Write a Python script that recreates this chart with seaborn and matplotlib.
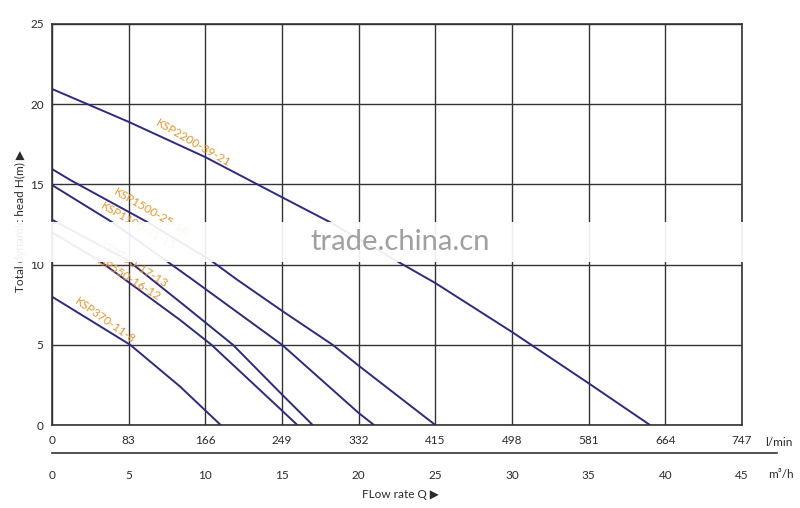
import pandas as pd
import matplotlib.pyplot as plt
import seaborn as sns
from matplotlib.patches import Rectangle

# Pump curves: flow in m3/h, head in m
models = ["KSP2200-39-21", "KSP1500-25-16", "KSP1100-21-15",
          "KSP750-17-13", "KSP550-16-12", "KSP370-11-8"]
q_2200 = [0, 5, 10, 15, 18.1, 22.6, 25, 30, 35, 39]
h_2200 = [20.95, 18.9, 16.7, 14.2, 12.66, 10.16, 8.85, 5.8, 2.6, 0]
q_1500 = [0, 1.2, 6.2, 10.3, 12.1, 15, 18.3, 20, 25]
h_1500 = [15.96, 15.27, 12.66, 10.3, 9.04, 7.12, 5.0, 3.7, 0]
q_1100 = [0, 3.9, 9.2, 15, 20, 21]
h_1100 = [14.96, 12.66, 9.04, 5.0, 0.75, 0]
q_750 = [0, 4.9, 8.35, 11.8, 15, 17]
h_750 = [12.8, 10.3, 7.67, 5.0, 1.9, 0]
q_550 = [0, 3.0, 8.35, 10.4, 15, 16]
h_550 = [12.0, 10.3, 6.55, 5.0, 0.9, 0]
q_370 = [0, 5.1, 8.35, 11.0]
h_370 = [8.0, 5.0, 2.4, 0]

# label positions along the curves (q, h, angle)
label_q = [9.2, 6.5, 5.6, 5.35, 4.9, 3.46]
label_h = [17.55, 13.3, 12.4, 10.0, 9.2, 6.5]
label_rot = [-30, -30, -30, -32, -32, -35]

lmin_ticks = ["0", "83", "166", "249", "332", "415", "498", "581", "664", "747"]
m3h_ticks = [0, 5, 10, 15, 20, 25, 30, 35, 40, 45]

curves = [(q_2200, h_2200), (q_1500, h_1500), (q_1100, h_1100),
          (q_750, h_750), (q_550, h_550), (q_370, h_370)]
rows = []
for name, (qs, hs) in zip(models, curves):
    for q, h in zip(qs, hs):
        rows.append({"model": name, "q": q, "h": h})
df = pd.DataFrame(rows)

sns.set_theme(style="white")
plt.rcParams['font.family'] = ['Lato', 'DejaVu Sans']

line_col = "#2d2a80"
grid_col = "#333333"
txt_col = "#2a2a2a"
lab_col = "#e3962b"

fig = plt.figure(figsize=(8, 5.08), dpi=100)
ax = fig.add_axes([52/800, 83/508, 690/800, 401/508])

sns.lineplot(data=df, x="q", y="h", units="model", estimator=None, sort=False,
             color=line_col, linewidth=1.4, ax=ax, legend=False)

for name, q, h, r in zip(models, label_q, label_h, label_rot):
    ax.text(q, h, name, rotation=r, ha="center", va="center", fontsize=8.5,
            color=lab_col, rotation_mode="anchor")

ax.set_xlim(0, 45)
ax.set_ylim(0, 25)
ax.set_xticks(m3h_ticks)
ax.set_xticklabels(lmin_ticks)
ax.set_yticks([0, 5, 10, 15, 20, 25])
ax.grid(True, color=grid_col, linewidth=1.0)
ax.tick_params(axis="both", length=0, labelsize=8.5, colors=txt_col)
ax.tick_params(axis="x", pad=7)
ax.tick_params(axis="y", pad=6)
for sp in ax.spines.values():
    sp.set_visible(True)
    sp.set_color(grid_col)
    sp.set_linewidth(1.2)
ax.set_xlabel("")
ax.set_ylabel("")

# second flow axis in m3/h
ax2 = fig.add_axes([52/800, 55/508, 725/800, 0.0001])
ax2.set_xlim(0, 725/690*45)
ax2.set_xticks(m3h_ticks)
ax2.set_yticks([])
ax2.patch.set_alpha(0)
for s in ["top", "left", "right"]:
    ax2.spines[s].set_visible(False)
ax2.spines["bottom"].set_color(grid_col)
ax2.spines["bottom"].set_linewidth(1.2)
ax2.tick_params(axis="x", direction="out", length=8.5, width=1.0, color=grid_col,
                labelsize=8.5, labelcolor=txt_col, pad=4)

fig.text(765/800, 1 - 442/508, "l/min", fontsize=8.5, color=txt_col, va="center")
fig.text(768/800, 1 - 475/508, "m³/h", fontsize=8.5, color=txt_col, va="center")
fig.text(0.5, 1 - 495/508, "FLow rate Q ▶", fontsize=8.5, color=txt_col,
         ha="center", va="center")
fig.text(20/800, 1 - 292/508, "Total dynamic head H(m) ▶", fontsize=8.5,
         color=txt_col, rotation=90, ha="center", va="bottom")

# watermark band
fig.add_artist(Rectangle((0, 1 - 262/508), 1, 40/508, transform=fig.transFigure,
                         facecolor="white", edgecolor="none", alpha=0.92, zorder=10))
fig.text(400/800, 1 - 242/508, "trade.china.cn", fontsize=21, color="#a0a0a0",
         ha="center", va="center", zorder=11)

fig.savefig("out.png", dpi=100)
